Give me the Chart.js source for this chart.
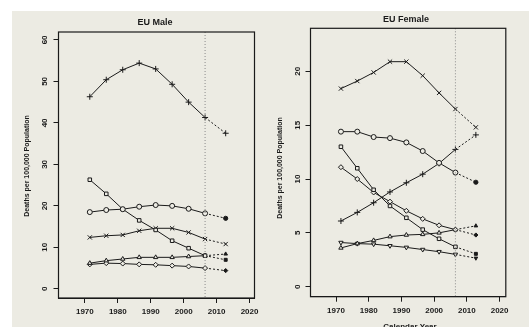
<!DOCTYPE html>
<html><head><meta charset="utf-8">
<script src="https://cdn.jsdelivr.net/npm/chart.js@4.4.1/dist/chart.umd.min.js"></script>
<style>
html,body{margin:0;padding:0;background:#fff;}
#wrap{position:relative;width:529px;height:327px;overflow:hidden;background:#fff;}
#paper{position:absolute;left:12px;top:11px;width:517px;height:316px;background:#ecebe3;}
canvas{position:absolute;top:0;}
</style></head><body>
<div id="wrap"><div id="paper"></div>
<canvas id="c1" width="265" height="327" style="left:0"></canvas>
<canvas id="c2" width="264" height="327" style="left:265px"></canvas>
</div>
<script>
// Calendar years of the observed periods (last = projection)
const years = [1971.5, 1976.5, 1981.5, 1986.5, 1991.5, 1996.5, 2001.5, 2006.5, 2012.75];
const cutYear = 2006.5;
const xTicks = [1970, 1980, 1990, 2000, 2010, 2020];

// EU Male
const malePlus     = [46.3, 50.4, 52.8, 54.4, 53.0, 49.3, 45.0, 41.3, 37.5];
const maleCircle   = [18.5, 19.0, 19.2, 19.8, 20.2, 20.0, 19.3, 18.2, 17.0];
const maleSquare   = [26.3, 22.9, 19.2, 16.5, 14.2, 11.6, 9.8, 8.0, 7.0];
const maleCross    = [12.4, 12.8, 13.0, 14.0, 14.6, 14.6, 13.6, 12.0, 10.8];
const maleTriangle = [6.2, 6.8, 7.2, 7.6, 7.6, 7.6, 7.8, 8.0, 8.4];
const maleDiamond  = [5.9, 6.2, 6.1, 5.9, 5.8, 5.6, 5.4, 5.0, 4.4];
const maleYTicks = [0, 10, 20, 30, 40, 50, 60];

// EU Female
const femCross    = [18.4, 19.1, 19.9, 20.9, 20.9, 19.6, 18.0, 16.5, 14.8];
const femCircle   = [14.4, 14.4, 13.9, 13.8, 13.4, 12.6, 11.5, 10.6, 9.7];
const femPlus     = [6.1, 6.9, 7.8, 8.8, 9.65, 10.45, 11.45, 12.75, 14.1];
const femSquare   = [13.0, 11.0, 9.0, 7.5, 6.4, 5.3, 4.45, 3.7, 3.05];
const femDiamond  = [11.1, 10.0, 8.75, 7.9, 7.05, 6.3, 5.7, 5.3, 4.8];
const femTriangle = [3.6, 4.0, 4.3, 4.65, 4.8, 4.86, 5.0, 5.3, 5.65];
const femDownTri  = [4.1, 4.0, 3.95, 3.8, 3.65, 3.45, 3.25, 3.0, 2.65];
const femYTicks = [0, 5, 10, 15, 20];

const INK = '#1a1a1a';
const PAPER = '#ecebe3';
const FONT = '"Liberation Sans", Arial, sans-serif';

function ds(values, style, rot) {
  const big = (style === 'cross' || style === 'crossRot');
  const last = years.length - 1;
  return {
    data: values.map((v, i) => ({x: years[i], y: v})),
    pointStyle: style,
    rotation: rot || 0,
    borderColor: INK,
    borderWidth: 1,
    pointBorderColor: INK,
    pointBorderWidth: 1,
    pointRadius: ctx => big ? 3 : (ctx.dataIndex === last ? 2.1 : 2.5),
    pointBackgroundColor: ctx => ctx.dataIndex === last ? INK : PAPER,
    tension: 0,
    fill: false,
    segment: { borderDash: ctx => ctx.p1DataIndex === last ? [2, 2] : undefined }
  };
}

function panel(id, cfg) {
  const canvas = document.getElementById(id);
  const W = canvas.width, H = canvas.height;
  const deco = {
    id: 'deco',
    afterDraw(chart) {
      const c = chart.ctx, a = chart.chartArea;
      const xs = chart.scales.x, ys = chart.scales.y;
      c.save();
      // dotted vertical line at end of observed data
      const vx = xs.getPixelForValue(cutYear);
      c.strokeStyle = '#8a8a8a'; c.lineWidth = 1; c.setLineDash([1, 2]);
      c.beginPath(); c.moveTo(vx, a.top); c.lineTo(vx, a.bottom); c.stroke();
      c.setLineDash([]);
      // box
      c.strokeStyle = INK; c.lineWidth = 1.2;
      c.strokeRect(a.left, a.top, a.right - a.left, a.bottom - a.top);
      c.fillStyle = INK;
      // title
      c.font = 'bold 9px ' + FONT; c.textAlign = 'center'; c.textBaseline = 'middle';
      c.fillText(cfg.title, cfg.titleX, cfg.titleY);
      // y tick labels rotated
      c.font = 'bold 8px ' + FONT;
      cfg.yTicks.forEach(v => {
        const py = ys.getPixelForValue(v);
        c.save(); c.translate(cfg.yLabelX, py); c.rotate(-Math.PI / 2);
        c.fillText(String(v), 0, 0); c.restore();
      });
      // y axis title
      c.font = 'bold 7px ' + FONT;
      c.save(); c.translate(cfg.yTitleX, cfg.yTitleY); c.rotate(-Math.PI / 2);
      c.fillText('Deaths per 100,000 Population', 0, 0); c.restore();
      if (cfg.xTitle) {
        c.font = 'bold 8px ' + FONT; c.textBaseline = 'top';
        c.fillText(cfg.xTitle, cfg.xTitleX, cfg.xTitleY);
      }
      c.restore();
    }
  };
  return new Chart(canvas, {
    type: 'line',
    data: { datasets: cfg.datasets },
    options: {
      responsive: false,
      animation: false,
      devicePixelRatio: 1,
      layout: { padding: { left: 0, top: cfg.area.t, right: W - cfg.area.r, bottom: 0 } },
      plugins: { legend: { display: false }, tooltip: { enabled: false } },
      scales: {
        x: {
          type: 'linear', min: cfg.xMin, max: cfg.xMax,
          afterBuildTicks: s => { s.ticks = xTicks.map(v => ({ value: v })); },
          afterFit: s => { s.height = H - cfg.area.b; },
          grid: { display: true, drawOnChartArea: false, drawTicks: true, tickLength: 5, color: INK, lineWidth: 1 },
          border: { display: true, color: INK, width: 1 },
          ticks: { color: INK, font: { family: FONT, size: 8, weight: 'bold' }, padding: 4, maxRotation: 0,
                   callback: v => String(v) }
        },
        y: {
          type: 'linear', min: cfg.yMin, max: cfg.yMax,
          afterBuildTicks: s => { s.ticks = cfg.yTicks.map(v => ({ value: v })); },
          afterFit: s => { s.width = cfg.area.l; },
          grid: { display: true, drawOnChartArea: false, drawTicks: true, tickLength: 5, color: INK, lineWidth: 1 },
          border: { display: true, color: INK, width: 1 },
          ticks: { display: false }
        }
      }
    },
    plugins: [deco]
  });
}

panel('c1', {
  area: { l: 58.5, t: 32, r: 254.5, b: 298 },
  xMin: 1962, xMax: 2021.5, yMin: -2.2, yMax: 61.9,
  yTicks: maleYTicks,
  title: 'EU Male', titleX: 155, titleY: 22.5,
  yLabelX: 45, yTitleX: 27, yTitleY: 166,
  datasets: [
    ds(malePlus, 'cross'),
    ds(maleCircle, 'circle'),
    ds(maleSquare, 'rect'),
    ds(maleCross, 'crossRot'),
    ds(maleTriangle, 'triangle'),
    ds(maleDiamond, 'rectRot')
  ]
});

panel('c2', {
  area: { l: 45.5, t: 28.3, r: 240.8, b: 296.7 },
  xMin: 1962.2, xMax: 2021.9, yMin: -0.93, yMax: 24.0,
  yTicks: femYTicks,
  title: 'EU Female', titleX: 141, titleY: 20,
  yLabelX: 33, yTitleX: 15, yTitleY: 168,
  xTitle: 'Calendar Year', xTitleX: 145, xTitleY: 323,
  datasets: [
    ds(femCross, 'crossRot'),
    ds(femCircle, 'circle'),
    ds(femPlus, 'cross'),
    ds(femSquare, 'rect'),
    ds(femDiamond, 'rectRot'),
    ds(femTriangle, 'triangle'),
    ds(femDownTri, 'triangle', 180)
  ]
});
</script>
</body></html>
